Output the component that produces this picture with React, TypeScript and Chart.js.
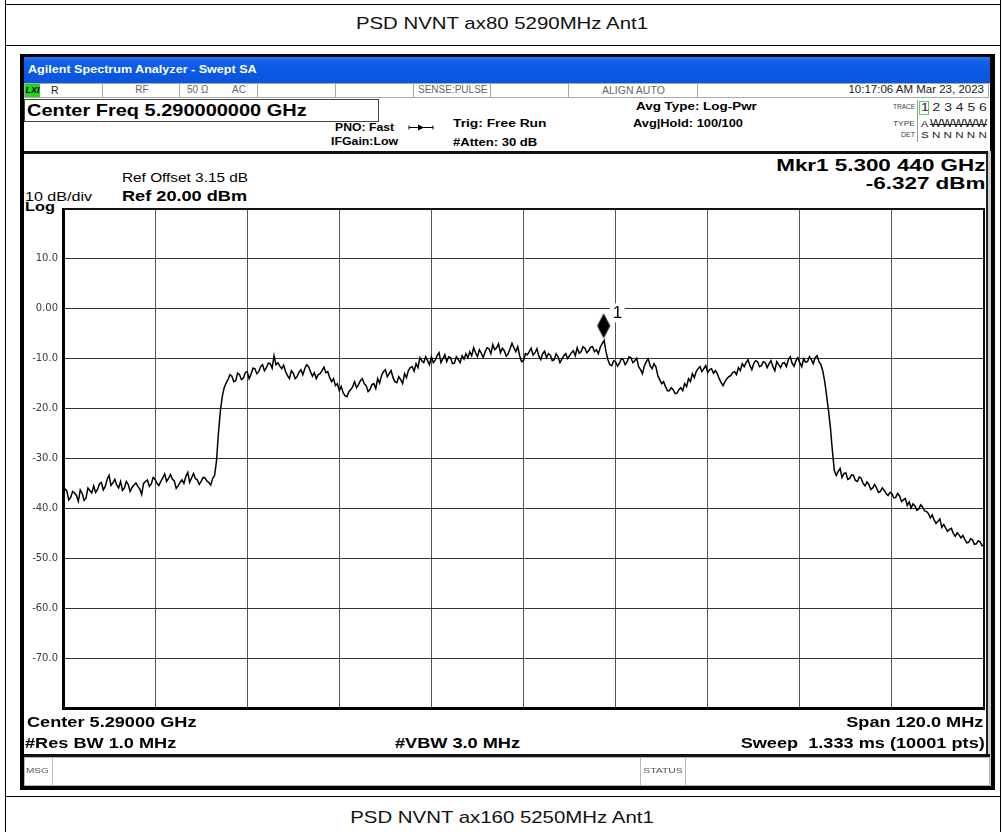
import React, { useEffect, useRef } from "react";
import { Chart, registerables } from "chart.js";

Chart.register(...registerables);

// ---------------- data ----------------
const startMHz = 5230;
const stepMHz = 0.25;
const powerDbm = [
  -37.2, -36.1, -36.5, -38.3, -37.8, -36.6, -36.9, -37.4, -38.6, -36.3,
  -37.0, -38.4, -37.9, -35.9, -36.4, -36.9, -35.5, -36.8, -36.2, -35.1,
  -34.8, -36.3, -35.6, -34.2, -33.4, -35.4, -34.9, -34.2, -35.3, -35.9,
  -34.6, -36.4, -35.9, -34.6, -35.2, -36.6, -35.8, -35.3, -34.9, -35.6,
  -36.1, -37.2, -35.0, -34.6, -34.3, -35.6, -35.1, -33.8, -34.2, -35.0,
  -35.4, -34.6, -33.9, -33.1, -34.6, -34.0, -33.2, -34.1, -34.5, -36.0,
  -35.5, -34.8, -34.3, -35.0, -33.6, -32.8, -34.8, -33.9, -33.0, -34.0,
  -34.3, -35.2, -34.6, -33.8, -33.9, -34.5, -34.8, -35.3, -34.0, -33.4,
  -30.5, -25.0, -20.5, -17.6, -15.8, -14.9, -14.2, -13.2, -13.5, -14.6,
  -14.4, -12.9, -13.2, -14.2, -13.9, -12.8, -12.6, -14.0, -13.1, -11.9,
  -12.0, -13.0, -12.6, -11.6, -11.2, -12.4, -11.8, -10.9, -11.0, -11.9,
  -9.4, -11.2, -10.8, -11.5, -12.0, -11.3, -12.6, -13.4, -14.0, -12.4,
  -12.9, -14.0, -13.6, -12.7, -12.2, -13.2, -12.0, -11.2, -11.6, -12.6,
  -13.5, -12.8, -14.0, -13.2, -13.0, -12.4, -11.7, -12.8, -12.6, -13.8,
  -14.6, -14.0, -15.4, -15.0, -16.4, -15.6, -16.8, -17.4, -17.6, -16.6,
  -16.2, -15.6, -14.6, -15.8, -15.2, -14.4, -14.0, -15.0, -15.4, -16.6,
  -16.2, -15.2, -15.0, -16.0, -14.0, -14.9, -13.4, -12.6, -12.2, -13.6,
  -13.0, -12.4, -13.8, -14.6, -14.8, -13.6, -14.2, -15.0, -13.0, -13.8,
  -12.4, -11.8, -11.6, -12.5, -11.0, -11.8, -9.8, -10.4, -10.8, -9.6,
  -10.4, -11.2, -9.6, -10.8, -10.3, -9.4, -8.8, -10.8, -10.0, -9.2,
  -10.6, -9.6, -9.8, -11.0, -10.9, -9.6, -10.2, -10.8, -9.4, -10.1,
  -9.0, -9.8, -8.6, -9.4, -7.8, -8.8, -9.6, -8.2, -8.9, -9.8,
  -8.6, -7.8, -8.0, -9.0, -7.2, -8.2, -7.8, -7.0, -8.8, -7.9,
  -8.4, -9.5, -9.0, -8.0, -6.9, -7.8, -8.6, -7.6, -9.4, -10.6,
  -10.4, -9.0, -9.2, -8.6, -7.9, -9.3, -8.8, -8.0, -9.5, -10.2,
  -9.0, -8.5, -9.8, -9.0, -9.3, -10.4, -10.2, -9.0, -9.6, -10.8,
  -10.1, -9.4, -9.0, -10.0, -9.4, -8.8, -8.4, -9.4, -7.8, -8.9,
  -8.6, -7.6, -7.9, -8.8, -8.4, -7.7, -7.6, -8.6, -8.2, -9.0,
  -7.7, -7.0, -6.33, -8.6, -10.2, -11.2, -11.4, -10.4, -10.6, -11.5,
  -10.9, -10.0, -10.2, -11.2, -10.6, -9.6, -9.8, -10.8, -10.4, -9.9,
  -11.6, -12.2, -13.0, -11.4, -10.6, -10.0, -11.4, -12.0, -11.0, -11.6,
  -13.4, -14.2, -15.0, -14.6, -15.6, -16.4, -16.4, -15.8, -16.2, -17.0,
  -16.9, -16.2, -15.8, -16.4, -15.0, -15.6, -14.0, -14.6, -13.0, -13.8,
  -12.6, -12.0, -11.6, -12.6, -12.0, -11.4, -12.8, -12.2, -12.0, -12.9,
  -12.4, -13.0, -14.0, -14.8, -15.4, -14.6, -14.0, -13.6, -13.4, -12.8,
  -12.6, -13.2, -11.8, -12.4, -11.0, -11.6, -10.8, -10.2, -11.4, -12.2,
  -11.0, -10.4, -10.6, -11.6, -11.4, -10.6, -10.8, -11.8, -11.0, -10.4,
  -11.6, -12.4, -10.6, -11.2, -11.8, -10.9, -10.8, -11.6, -10.2, -9.6,
  -10.9, -11.5, -10.4, -9.8, -10.8, -11.6, -10.0, -10.7, -10.6, -9.6,
  -10.2, -11.0, -9.8, -9.4, -10.6, -11.2, -12.5, -14.6, -17.5, -20.5,
  -24.0, -28.5, -32.4, -33.4, -32.6, -32.0, -33.8, -33.0, -32.9, -34.2,
  -34.0, -33.3, -33.4, -34.4, -34.6, -33.7, -34.0, -35.0, -35.5, -34.7,
  -35.2, -36.2, -35.9, -35.2, -35.9, -36.8, -36.6, -35.9, -36.4, -37.0,
  -37.4, -36.8, -37.0, -37.9, -37.8, -37.0, -37.5, -38.6, -38.3, -38.0,
  -39.4, -38.7, -39.9, -39.1, -39.5, -40.4, -40.1, -39.3, -39.7, -40.5,
  -40.6, -41.0, -41.9, -41.3, -42.3, -43.0, -42.6, -42.1, -43.8, -43.2,
  -43.9, -44.6, -44.2, -44.0, -45.0, -45.6, -44.9, -45.3, -45.9, -45.4,
  -46.2, -46.9, -46.8, -46.1, -46.3, -47.2, -47.1, -46.5, -46.7, -47.5,
  -47.3,
];
const markerFreqMHz = 5300.44;
const markerDbm = -6.327;
const markerLabel = "1";
const xMinMHz = 5230;
const xMaxMHz = 5350;
const xStepMHz = 12;
const yMin = -80;
const yMax = 20;
const yStep = 10;
const yTickValues = [10, 0, -10, -20, -30, -40, -50, -60, -70];
const yTickLabels = ["10.0", "0.00", "-10.0", "-20.0", "-30.0", "-40.0", "-50.0", "-60.0", "-70.0"];

// ---------------- helpers ----------------
const W = 1003;
const FONT = "'Liberation Sans', Arial, Helvetica, sans-serif";

type TxtProps = {
  x: number;
  y: number;
  size: number;
  bold?: boolean;
  italic?: boolean;
  align?: "left" | "right" | "center";
  sx?: number;
  color?: string;
  deco?: string;
  children: any;
};

function Txt(p: TxtProps) {
  const sx = p.sx ?? 1.21;
  const s: React.CSSProperties = {
    position: "absolute",
    top: p.y - p.size / 2,
    height: p.size,
    fontSize: p.size,
    lineHeight: `${p.size}px`,
    fontFamily: FONT,
    fontWeight: p.bold ? 700 : 400,
    fontStyle: p.italic ? "italic" : "normal",
    color: p.color ?? "#000",
    whiteSpace: "pre",
    transform: `scaleX(${sx})`,
    textDecoration: p.deco,
  };
  const align = p.align ?? "left";
  if (align === "left") {
    s.left = p.x;
    s.transformOrigin = "left center";
  } else if (align === "right") {
    s.right = W - p.x;
    s.textAlign = "right";
    s.transformOrigin = "right center";
  } else {
    s.left = p.x - 500;
    s.width = 1000;
    s.textAlign = "center";
    s.transformOrigin = "center center";
  }
  return <div style={s}>{p.children}</div>;
}

function Box(p: { l: number; t: number; w: number; h: number; bg?: string; border?: string }) {
  return (
    <div
      style={{
        position: "absolute",
        left: p.l,
        top: p.t,
        width: p.w,
        height: p.h,
        background: p.bg,
        border: p.border,
        boxSizing: "border-box",
      }}
    />
  );
}

// ---------------- chart ----------------
function SpectrumChart() {
  const ref = useRef<HTMLCanvasElement | null>(null);

  useEffect(() => {
    const canvas = ref.current;
    if (!canvas) return;

    const diamond = document.createElement("canvas");
    diamond.width = 14;
    diamond.height = 56;
    const dc = diamond.getContext("2d");
    if (dc) {
      dc.fillStyle = "#000";
      dc.beginPath();
      dc.moveTo(7, 1);
      dc.lineTo(13.5, 13.5);
      dc.lineTo(7, 26);
      dc.lineTo(0.5, 13.5);
      dc.closePath();
      dc.fill();
    }

    const traceData = powerDbm.map((p, i) => ({ x: startMHz + i * stepMHz, y: p }));

    const framePlugin = {
      id: "frame",
      beforeDatasetsDraw(chart: any) {
        const { left, right, top, bottom } = chart.chartArea;
        const ctx = chart.ctx;
        ctx.save();
        ctx.fillStyle = "#111";
        ctx.fillRect(left, top - 1, right - left, 2);
        ctx.fillRect(right - 1, top - 1, 2, bottom - top + 1);
        ctx.restore();
      },
    };

    const markerLabelPlugin = {
      id: "mkrLabel",
      afterDatasetsDraw(chart: any) {
        const meta = chart.getDatasetMeta(1);
        const pt = meta && meta.data && meta.data[0];
        if (!pt) return;
        const ctx = chart.ctx;
        ctx.save();
        ctx.fillStyle = "#fff";
        ctx.fillRect(pt.x + 6, pt.y - 37, 15, 19);
        ctx.fillStyle = "#000";
        ctx.font = "17px 'Liberation Sans', Arial";
        ctx.textBaseline = "middle";
        ctx.textAlign = "left";
        ctx.fillText(markerLabel, pt.x + 9, pt.y - 27);
        ctx.restore();
      },
    };

    const chart = new Chart(canvas, {
      type: "line",
      data: {
        datasets: [
          {
            label: "Trace 1",
            data: traceData,
            borderColor: "#000",
            borderWidth: 1.5,
            pointRadius: 0,
            tension: 0,
            fill: false,
          } as any,
          {
            type: "scatter",
            label: "Mkr1",
            data: [{ x: markerFreqMHz, y: markerDbm }],
            pointStyle: diamond,
            pointRadius: 7,
            showLine: false,
          } as any,
        ],
      },
      options: {
        responsive: false,
        maintainAspectRatio: false,
        animation: false,
        events: [],
        layout: { padding: { top: 12, right: 6, bottom: 10, left: 0 } },
        plugins: {
          legend: { display: false },
          tooltip: { enabled: false },
          title: { display: false },
        },
        scales: {
          x: {
            type: "linear",
            min: xMinMHz,
            max: xMaxMHz,
            ticks: { display: false, stepSize: xStepMHz },
            grid: { color: "#555", lineWidth: 1, drawTicks: false },
            border: { display: true, color: "#000", width: 3 },
            afterFit: (s: any) => {
              s.height = 0;
            },
          },
          y: {
            type: "linear",
            min: yMin,
            max: yMax,
            ticks: {
              stepSize: yStep,
              padding: 5,
              color: "#3a3a3a",
              autoSkip: false,
              font: { family: "'DejaVu Sans', sans-serif", size: 10 },
              callback: (v: any) => {
                const idx = yTickValues.indexOf(Number(v));
                return idx >= 0 ? yTickLabels[idx] : "";
              },
            },
            grid: { color: "#333", lineWidth: 1, drawTicks: false },
            border: { display: true, color: "#000", width: 3 },
            afterFit: (s: any) => {
              s.width = 39;
            },
          },
        },
      } as any,
      plugins: [framePlugin, markerLabelPlugin],
    });

    return () => {
      chart.destroy();
    };
  }, []);

  return (
    <canvas
      ref={ref}
      width={968}
      height={522}
      style={{ position: "absolute", left: 24, top: 197, width: 968, height: 522 }}
    />
  );
}

// ---------------- page ----------------
export default function App() {
  const statusSeps = [102, 179, 257, 335, 413, 490, 568, 697];
  return (
    <div
      style={{
        position: "absolute",
        left: 0,
        top: 0,
        width: W,
        height: 832,
        background: "#fff",
        overflow: "hidden",
        fontFamily: FONT,
      }}
    >
      {/* document table lines */}
      <Box l={5} t={4} w={996} h={1} bg="#000" />
      <Box l={5} t={45} w={996} h={1} bg="#000" />
      <Box l={5} t={796} w={996} h={1} bg="#000" />
      <Box l={5} t={0} w={1} h={832} bg="#000" />
      <Box l={1000} t={0} w={1} h={832} bg="#000" />
      <Txt x={502} y={23} size={17} align="center" sx={1.2} color="#111">
        PSD NVNT ax80 5290MHz Ant1
      </Txt>
      <Txt x={502} y={817} size={17} align="center" sx={1.2} color="#111">
        PSD NVNT ax160 5250MHz Ant1
      </Txt>

      {/* analyzer screen */}
      <Box l={20} t={54} w={975} h={736} bg="#000" />
      <Box
        l={24}
        t={57}
        w={966}
        h={26}
        bg="linear-gradient(to bottom, #2a74f2 0%, #0f61ec 18%, #0a58e4 60%, #0b55da 100%)"
      />
      <Txt x={28} y={70} size={10.4} bold color="#fff">
        Agilent Spectrum Analyzer - Swept SA
      </Txt>

      {/* header area */}
      <Box l={24} t={83} w={966} h={68} bg="#fff" />
      <Box l={24} t={83} w={965} h={15} bg="#fff" border="1px solid #a8a8a8" />
      {statusSeps.map((x) => (
        <Box key={x} l={x} t={83} w={1} h={15} bg="#a8a8a8" />
      ))}
      <Box l={25} t={84} w={15} h={13} bg="#1ed61e" />
      <Txt x={25.5} y={90.5} size={9} bold italic sx={1} color="#000">
        LXI
      </Txt>
      <Txt x={51} y={90} size={10.5} sx={1} color="#222">
        R
      </Txt>
      <Txt x={142} y={90} size={10} sx={1} align="center" color="#666">
        RF
      </Txt>
      <Txt x={187} y={90} size={10} sx={1} color="#666">
        50 Ω
      </Txt>
      <Txt x={232} y={90} size={10} sx={1} color="#666">
        AC
      </Txt>
      <Txt x={418} y={90} size={10} sx={1} color="#666">
        SENSE:PULSE
      </Txt>
      <Txt x={602} y={90} size={10.5} sx={1} color="#666">
        ALIGN AUTO
      </Txt>
      <Txt x={984} y={90} size={11.5} sx={1} align="right" color="#222">
        10:17:06 AM Mar 23, 2023
      </Txt>

      <Box l={24} t={99} w={355} h={23} border="1px solid #444" />
      <Txt x={27} y={110} size={16.5} bold>
        Center Freq 5.290000000 GHz
      </Txt>

      <Txt x={335} y={128} size={10.1} bold>
        PNO: Fast
      </Txt>
      <Txt x={331} y={142} size={10.2} bold>
        IFGain:Low
      </Txt>
      <svg style={{ position: "absolute", left: 408, top: 123 }} width={26} height={9}>
        <line x1={1} y1={4.5} x2={25} y2={4.5} stroke="#000" strokeWidth={1} />
        <line x1={1} y1={2.5} x2={1} y2={6.5} stroke="#000" strokeWidth={1} />
        <line x1={25} y1={2.5} x2={25} y2={6.5} stroke="#000" strokeWidth={1} />
        <polygon points="10,1.5 16,4.5 10,7.5" fill="#000" />
      </svg>
      <Txt x={453} y={124} size={11.4} bold>
        Trig: Free Run
      </Txt>
      <Txt x={453} y={142} size={10.8} bold>
        #Atten: 30 dB
      </Txt>
      <Txt x={636} y={107} size={11.1} bold>
        Avg Type: Log-Pwr
      </Txt>
      <Txt x={633} y={123} size={10.6} bold>
        Avg|Hold: 100/100
      </Txt>

      {/* trace table */}
      <Txt x={915} y={107} size={8} sx={0.82} align="right" color="#444">
        TRACE
      </Txt>
      <Txt x={915} y={124} size={8} sx={1.05} align="right" color="#444">
        TYPE
      </Txt>
      <Txt x={915} y={135} size={8} sx={0.88} align="right" color="#444">
        DET
      </Txt>
      <Box l={917} t={100} w={1} h={42} bg="#999" />
      <Box l={919} t={101} w={10} h={14} border="1px solid #5ccf5c" />
      <Txt x={921} y={108} size={11.5} color="#222">
        1 2 3 4 5 6
      </Txt>
      <Txt x={921} y={124} size={9} color="#222">
        A
      </Txt>
      <Txt x={930} y={124} size={10} color="#222" deco="line-through">
        WWWWW
      </Txt>
      <Txt x={921} y={135} size={9.6} color="#222">
        S N N N N N
      </Txt>

      <Box l={24} t={151} w={966} h={3} bg="#111" />

      {/* main panel */}
      <Box l={24} t={154} w={964} h={600} bg="#fff" />
      <Box l={988} t={151} w={3} h={635} bg="#cfcfcf" />
      <Box l={986} t={154} w={2} h={600} bg="#222" />
      <Txt x={122} y={178} size={12.7}>
        Ref Offset 3.15 dB
      </Txt>
      <Txt x={122} y={195} size={15} bold>
        Ref 20.00 dBm
      </Txt>
      <Txt x={25} y={197} size={13.3}>
        10 dB/div
      </Txt>
      <Txt x={25} y={207} size={13.5} bold>
        Log
      </Txt>
      <Txt x={985} y={166} size={16} bold sx={1.4} align="right">
        Mkr1 5.300 440 GHz
      </Txt>
      <Txt x={985} y={184} size={16} bold sx={1.4} align="right">
        -6.327 dBm
      </Txt>

      <SpectrumChart />

      <Txt x={27} y={721} size={15} bold>
        Center 5.29000 GHz
      </Txt>
      <Txt x={25} y={742} size={15} bold>
        #Res BW 1.0 MHz
      </Txt>
      <Txt x={395} y={742} size={15} bold>
        #VBW 3.0 MHz
      </Txt>
      <Txt x={983} y={721} size={15} bold align="right">
        Span 120.0 MHz
      </Txt>
      <Txt x={985} y={742} size={15} bold align="right">
        {"Sweep  1.333 ms (10001 pts)"}
      </Txt>

      <Box l={24} t={754} w={966} h={3} bg="#111" />

      {/* message row */}
      <Box l={24} t={757} w={966} h={29} bg="#fff" border="1px solid #b8b8b8" />
      <Box l={52} t={757} w={1} h={29} bg="#b8b8b8" />
      <Box l={640} t={757} w={1} h={29} bg="#b8b8b8" />
      <Box l={685} t={757} w={1} h={29} bg="#b8b8b8" />
      <Txt x={26} y={771} size={8} sx={1.25} color="#555">
        MSG
      </Txt>
      <Txt x={662.5} y={771} size={8} sx={1.3} align="center" color="#555">
        STATUS
      </Txt>
    </div>
  );
}
